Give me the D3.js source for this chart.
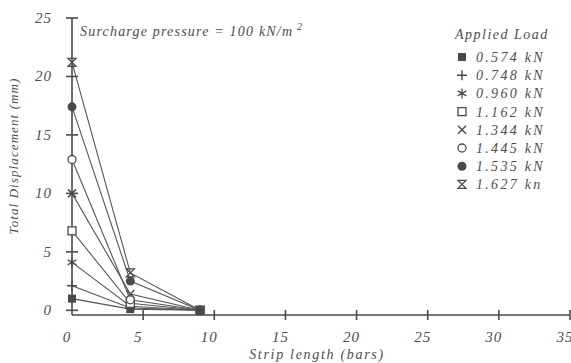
<!DOCTYPE html>
<html>
<head>
<meta charset="utf-8">
<script src="https://cdn.jsdelivr.net/npm/d3@7"></script>
<style>
  body { margin: 0; background: #fff; }
  text { font-family: "Liberation Serif", "DejaVu Serif", serif; font-style: italic; fill: #4d4d4d; }
</style>
</head>
<body>
<div class="chart"></div>
<script>
// strip positions (bars) where displacement was measured
var stripPos = [0, 4.1, 9];

// load cases and their displacement (mm) at each strip position
var loads = ["0.574 kN", "0.748 kN", "0.960 kN", "1.162 kN", "1.344 kN", "1.445 kN", "1.535 kN", "1.627 kn"];
var disp0574 = [1.0, 0.1, 0];
var disp0748 = [2.1, 0.2, 0];
var disp0960 = [4.1, 0.35, 0];
var disp1162 = [6.8, 0.6, 0];
var disp1344 = [10.0, 1.4, 0];
var disp1445 = [12.9, 0.9, 0];
var disp1535 = [17.4, 2.5, 0];
var disp1627 = [21.2, 3.2, 0];
var shapes = ["fsquare", "plus", "aster", "osquare", "cross", "ocircle", "fcircle", "hourglass"];

var xTicks = [0, 5, 10, 15, 20, 25, 30, 35];
var yTicks = [0, 5, 10, 15, 20, 25];

var series = [disp0574, disp0748, disp0960, disp1162, disp1344, disp1445, disp1535, disp1627];

var width = 571, height = 363;
var svg = d3.select(".chart").append("svg")
    .attr("width", width)
    .attr("height", height);

var x = d3.scaleLinear().domain([0, 35]).range([72, 570]);
var y = d3.scaleLinear().domain([-0.4, 25]).range([315, 18]);

var ink = "#4a4a4a";

// axes lines
svg.append("line").attr("x1", x(0)).attr("x2", x(35)).attr("y1", y(-0.4)).attr("y2", y(-0.4))
    .attr("stroke", ink).attr("stroke-width", 1.6);
svg.append("line").attr("x1", x(0)).attr("x2", x(0)).attr("y1", y(-0.4)).attr("y2", y(25))
    .attr("stroke", ink).attr("stroke-width", 1.6);

// y ticks (crossing the axis)
svg.selectAll("line.ytick").data(yTicks).enter().append("line")
    .attr("class", "ytick")
    .attr("x1", x(0) - 6).attr("x2", x(0) + 6)
    .attr("y1", function (d) { return y(d); })
    .attr("y2", function (d) { return y(d); })
    .attr("stroke", ink).attr("stroke-width", 1.6);

svg.selectAll("text.ylab").data(yTicks).enter().append("text")
    .attr("class", "ylab")
    .attr("x", 52)
    .attr("y", function (d) { return y(d) + 5; })
    .attr("text-anchor", "end")
    .style("font-size", "15px")
    .style("letter-spacing", "1px")
    .text(function (d) { return d; });

// x ticks
svg.selectAll("line.xtick").data(xTicks.slice(1)).enter().append("line")
    .attr("class", "xtick")
    .attr("x1", function (d) { return x(d); })
    .attr("x2", function (d) { return x(d); })
    .attr("y1", y(-0.4) - 5).attr("y2", y(-0.4) + 5)
    .attr("stroke", ink).attr("stroke-width", 1.6);

svg.selectAll("text.xlab").data(xTicks).enter().append("text")
    .attr("class", "xlab")
    .attr("x", function (d) { return x(d) - 5; })
    .attr("y", 342)
    .attr("text-anchor", "middle")
    .style("font-size", "15px")
    .style("letter-spacing", "1px")
    .text(function (d) { return d; });

// axis titles
svg.append("text")
    .attr("x", 317).attr("y", 359)
    .attr("text-anchor", "middle")
    .style("font-size", "14px")
    .style("letter-spacing", "1.7px")
    .text("Strip length (bars)");

svg.append("text")
    .attr("transform", "translate(18,156) rotate(-90)")
    .attr("text-anchor", "middle")
    .style("font-size", "13px")
    .style("letter-spacing", "1.1px")
    .text("Total Displacement (mm)");

var note = svg.append("text")
    .attr("x", 80).attr("y", 36)
    .style("font-size", "14px")
    .style("letter-spacing", "1.2px");
note.append("tspan").text("Surcharge pressure = 100 kN/m");
note.append("tspan").attr("dy", -6).style("font-size", "10px").text(" 2");

// marker drawing
function drawMarker(g, kind, s) {
    var h = s / 2;
    if (kind === "fsquare") {
        g.append("rect").attr("x", -h).attr("y", -h).attr("width", s).attr("height", s).attr("fill", ink);
    } else if (kind === "osquare") {
        g.append("rect").attr("x", -h).attr("y", -h).attr("width", s).attr("height", s)
            .attr("fill", "#fff").attr("stroke", ink).attr("stroke-width", 1.3);
    } else if (kind === "fcircle") {
        g.append("circle").attr("r", h + 0.5).attr("fill", ink);
    } else if (kind === "ocircle") {
        g.append("circle").attr("r", h).attr("fill", "#fff").attr("stroke", ink).attr("stroke-width", 1.3);
    } else if (kind === "plus") {
        g.append("path").attr("d", "M" + (-h - 1) + ",0H" + (h + 1) + "M0," + (-h - 1) + "V" + (h + 1))
            .attr("stroke", ink).attr("stroke-width", 1.4);
    } else if (kind === "cross") {
        g.append("path").attr("d", "M" + (-h) + "," + (-h) + "L" + h + "," + h + "M" + (-h) + "," + h + "L" + h + "," + (-h))
            .attr("stroke", ink).attr("stroke-width", 1.5);
    } else if (kind === "aster") {
        var a = h + 1, b = a * 0.87, c = a * 0.5;
        g.append("path").attr("d", "M0," + (-a) + "V" + a + "M" + (-b) + "," + (-c) + "L" + b + "," + c + "M" + (-b) + "," + c + "L" + b + "," + (-c))
            .attr("stroke", ink).attr("stroke-width", 1.3);
    } else if (kind === "hourglass") {
        g.append("path").attr("d", "M" + (-h) + "," + (-h) + "H" + h + "L" + (-h) + "," + h + "H" + h + "Z")
            .attr("fill", "none").attr("stroke", ink).attr("stroke-width", 1.3);
    }
}

// series lines
var line = d3.line()
    .x(function (d, i) { return x(stripPos[i]); })
    .y(function (d) { return y(d); });

series.forEach(function (vals, k) {
    svg.append("path")
        .attr("d", line(vals))
        .attr("fill", "none")
        .attr("stroke", "#555")
        .attr("stroke-width", 1.1);
});

series.forEach(function (vals, k) {
    vals.forEach(function (v, i) {
        var g = svg.append("g").attr("transform", "translate(" + x(stripPos[i]) + "," + y(v) + ")");
        drawMarker(g, shapes[k], 8);
    });
});

// legend
svg.append("text")
    .attr("x", 455).attr("y", 39)
    .style("font-size", "14px")
    .style("letter-spacing", "1.5px")
    .text("Applied Load");

var legend = svg.selectAll("g.leg").data(loads).enter().append("g")
    .attr("class", "leg")
    .attr("transform", function (d, i) { return "translate(462," + (57 + i * 18.2) + ")"; });

legend.each(function (d, i) { drawMarker(d3.select(this), shapes[i], 8); });

legend.append("text")
    .attr("x", 14).attr("y", 5)
    .style("font-size", "14px")
    .style("letter-spacing", "2.3px")
    .text(function (d) { return d; });
</script>
</body>
</html>
